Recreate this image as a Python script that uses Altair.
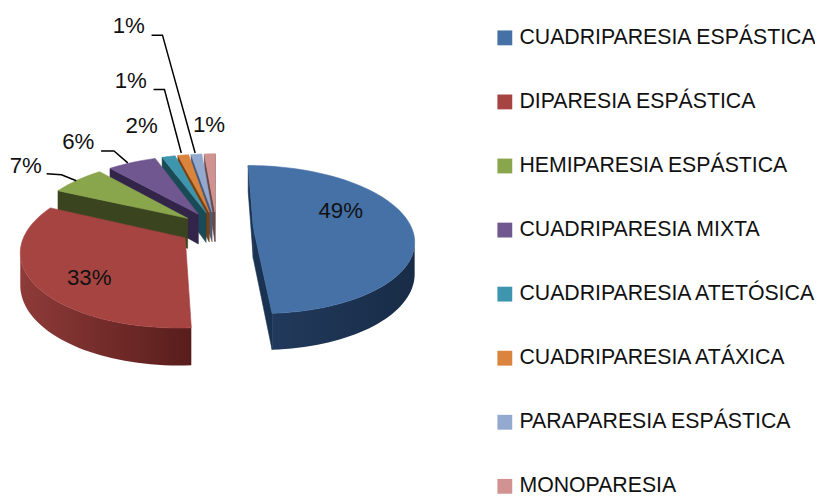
import math
import altair as alt
import pandas as pd

CATEGORIES = ["CUADRIPARESIA ESPÁSTICA", "DIPARESIA ESPÁSTICA", "HEMIPARESIA ESPÁSTICA",
              "CUADRIPARESIA MIXTA", "CUADRIPARESIA ATETÓSICA", "CUADRIPARESIA ATÁXICA",
              "PARAPARESIA ESPÁSTICA", "MONOPARESIA"]
PERCENT = [49, 33, 6.6, 5.9, 1.6, 1.3, 1.3, 1.3]
TOP_COLORS = ["#4571A6", "#A64442", "#8AA64C", "#71578F", "#3E96AE", "#DB843D", "#93A9CF", "#D19392"]
WALL_COLORS = ["#1A3352", "#8E3B39", "#3A451F", "#33254A", "#1A4A55", "#7A4010", "#4A5A78", "#6A4A48"]
GRADIENT_WALLS = {0: ("#21395B", "#182C47"), 1: ("#8E3B39", "#581D1B")}
DRAW_ORDER = [7, 6, 5, 4, 3, 2, 1, 0]

# annotation text and leader lines
LABELS = ["49%", "33%", "7%", "6%", "2%", "1%", "1%", "1%"]
LABEL_X = [344, 90, 26, 79, 143, 130, 132, 211]
LABEL_Y = [211, 278, 165, 141, 125, 24, 79, 124]
LEADERS = [
    [(47, 173), (62, 174), (77, 180)],
    [(102, 150), (115, 150), (129, 162)],
    [(155, 88), (166, 88), (183, 152)],
    [(153, 33), (164, 33), (197, 152)],
]

# projection of the pie disc
CX, CY, A, B, P, EXPLODE, DEPTH = 218.5, 228, 160, 73, 0.16, 0.233, 31


def project(X, Y):
    w = 1 + P * Y
    return CX + A * X / w, CY - B * Y / w, DEPTH / w


back_rows, top_rows = [], []
wall_rows = {0: [], 1: []}
pid = 0


def add_poly(target, points, color):
    global pid
    for i, (x, y) in enumerate(points + points[:1]):
        target.append({"pid": f"{pid:05d}", "i": i, "x": x, "y": y, "c": color})
    pid += 1


starts = []
acc = 0.0
for v in PERCENT:
    starts.append(acc)
    acc += v * 3.6

for k in DRAW_ORDER:
    a0 = starts[k]
    a1 = a0 + PERCENT[k] * 3.6
    mid = math.radians((a0 + a1) / 2)
    ox, oy = EXPLODE * math.sin(mid), EXPLODE * math.cos(mid)
    n = max(2, int((a1 - a0) / 2))
    outline = [project(ox, oy)]
    for j in range(n + 1):
        t = math.radians(a0 + (a1 - a0) * j / n)
        outline.append(project(ox + math.sin(t), oy + math.cos(t)))
    count = len(outline)
    curved = []
    for j in range(count):
        p, q = outline[j], outline[(j + 1) % count]
        if q[0] < p[0]:  # the edge faces the viewer
            radial = j == 0 or j == count - 1
            if k in GRADIENT_WALLS and not radial:
                curved += [p, q]
            else:
                add_poly(back_rows, [(p[0], p[1]), (q[0], q[1]), (q[0], q[1] + q[2]), (p[0], p[1] + p[2])], WALL_COLORS[k])
    if curved:
        upper = [(c[0], c[1]) for c in curved]
        lower = [(c[0], c[1] + c[2]) for c in reversed(curved)]
        add_poly(wall_rows[k], upper + lower, WALL_COLORS[k])
    add_poly(top_rows if k < 2 else back_rows, [(o[0], o[1]) for o in outline], TOP_COLORS[k])

W, H = 815, 488
xs = alt.Scale(domain=[8, 8 + W], range=[0, W], nice=False, zero=False)
ys = alt.Scale(domain=[8, 8 + H], range=[0, H], nice=False, zero=False)
X = alt.X("x:Q", scale=xs, axis=None)
Y = alt.Y("y:Q", scale=ys, axis=None)

legend_layer = alt.Chart(pd.DataFrame({"name": CATEGORIES})).mark_square(size=1).encode(
    x=alt.value(336), y=alt.value(204),
    color=alt.Color("name:N", scale=alt.Scale(domain=CATEGORIES, range=TOP_COLORS),
                    legend=alt.Legend(title=None, orient="none", legendX=491, legendY=17,
                                      symbolType="square", symbolSize=225, symbolStrokeWidth=0, symbolOpacity=1,
                                      labelFont="Liberation Sans", labelFontSize=21.5, labelColor="#111111",
                                      labelLimit=400, labelOffset=4, rowPadding=41.7, columns=1,
                                      padding=0, symbolOffset=0)),
)


def poly_layer(rows):
    return alt.Chart(pd.DataFrame(rows)).mark_line(strokeWidth=0.6).encode(
        x=X, y=Y, detail="pid:N", order="i:Q",
        fill=alt.Fill("c:N", scale=None, legend=None),
        stroke=alt.Stroke("c:N", scale=None, legend=None),
    )


def wall_layer(k):
    left, right = GRADIENT_WALLS[k]
    grad = alt.Gradient(gradient="linear", x1=0, y1=0, x2=1, y2=0,
                        stops=[alt.GradientStop(color=left, offset=0), alt.GradientStop(color=right, offset=1)])
    return alt.Chart(pd.DataFrame(wall_rows[k])).mark_line(fill=grad, strokeWidth=0).encode(
        x=X, y=Y, detail="pid:N", order="i:Q")


leader_rows = [{"l": n, "i": i, "x": x, "y": y} for n, pts in enumerate(LEADERS) for i, (x, y) in enumerate(pts)]
leader_layer = alt.Chart(pd.DataFrame(leader_rows)).mark_line(color="black", strokeWidth=1.5).encode(
    x=X, y=Y, detail="l:N", order="i:Q")

text_layer = alt.Chart(pd.DataFrame({"t": LABELS, "x": LABEL_X, "y": LABEL_Y})).mark_text(
    font="Liberation Sans", fontSize=22.5, color="#111111", align="center", baseline="middle").encode(
    x=X, y=Y, text="t:N")

chart = alt.layer(legend_layer, poly_layer(back_rows), wall_layer(1), wall_layer(0), poly_layer(top_rows),
                  leader_layer, text_layer).properties(
    width=W, height=H, padding=0, autosize=alt.AutoSizeParams(type="none")
).configure_view(stroke=None)

chart.save("out.html", embed_options={"renderer": "svg", "actions": False})
